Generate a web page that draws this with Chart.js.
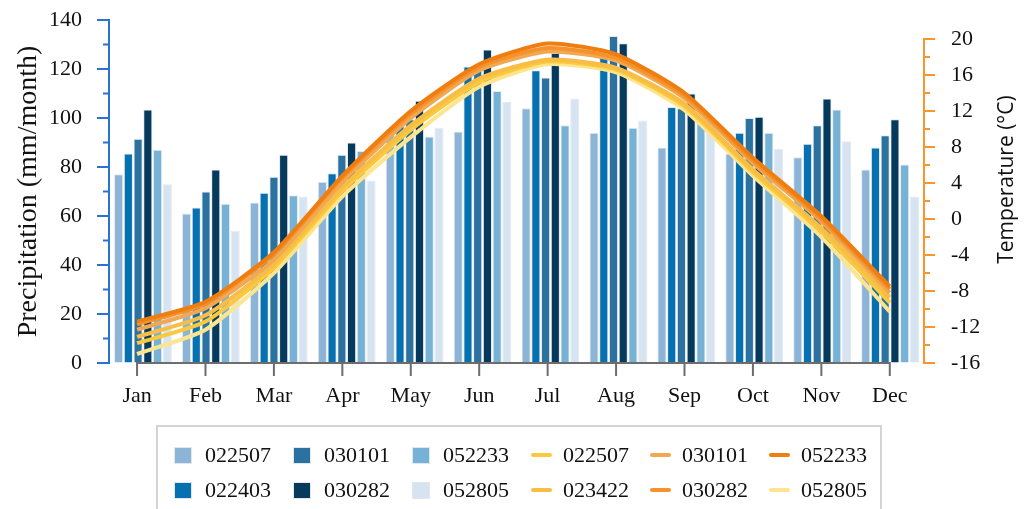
<!DOCTYPE html>
<html>
<head>
<meta charset="utf-8">
<script src="https://cdn.jsdelivr.net/npm/chart.js@4.4.1/dist/chart.umd.min.js"></script>
<style>
body { margin: 0; background: #fff; }
#wrap { position: relative; width: 1026px; height: 509px; }
#legend { position: absolute; left: 156px; top: 425px; width: 726px; height: 84px;
  border: 2px solid #d4d4d4; border-bottom: none; box-sizing: border-box;
  font-family: "Liberation Serif", serif; font-size: 22px; color: #111; }
.item { position: absolute; display: flex; align-items: center; height: 24px; white-space: nowrap; }
.box { width: 18px; height: 17px; margin-right: 13px; border: 1px solid #e2e7ee; box-sizing: border-box; }
.ln { width: 21px; height: 4px; border-radius: 2px; margin-right: 11px; }
</style>
</head>
<body>
<div id="wrap">
  <canvas id="myChart" width="1026" height="509"></canvas>
  <div id="legend"></div>
</div>
<script>
const months = ['Jan','Feb','Mar','Apr','May','Jun','Jul','Aug','Sep','Oct','Nov','Dec'];
const precipTicks = [0,10,20,30,40,50,60,70,80,90,100,110,120,130,140];
const tempTicks = [-16,-14,-12,-10,-8,-6,-4,-2,0,2,4,6,8,10,12,14,16,18,20];

// precipitation (mm/month), one array per station
const p022507 = [77, 61, 65.5, 74, 95.5, 94.5, 104, 94, 88, 85.5, 84, 79];
const p022403 = [85.5, 63.5, 69.5, 77.5, 97, 121, 119.5, 125.5, 104.5, 94, 89.5, 88];
const p030101 = [91.5, 70, 76, 85, 99.5, 121, 116.5, 133.5, 104, 100, 97, 93];
const p030282 = [103.5, 79, 85, 90, 107, 128, 126.5, 130.5, 110, 100.5, 108, 99.5];
const p052233 = [87, 65, 68.5, 86.5, 92.5, 111, 97, 96, 100, 94, 103.5, 81];
const p052805 = [73, 54, 68, 74.5, 96, 106.5, 108, 99, 99.5, 87.5, 90.5, 68];

// temperature (°C)
const t022507 = [-13.8, -11.4, -5.4, 3.1, 9.9, 15.2, 17.5, 16.6, 12.5, 5.2, -1.4, -9.3];
const t023422 = [-13.1, -10.7, -5.0, 3.5, 10.4, 15.6, 17.7, 16.8, 12.8, 5.5, -1.0, -8.7];
const t030101 = [-12.3, -9.9, -4.5, 4.1, 11.2, 16.5, 18.6, 17.6, 13.4, 6.2, -0.3, -8.2];
const t030282 = [-11.7, -9.4, -3.9, 4.6, 11.7, 16.9, 19.0, 17.9, 13.7, 6.5, 0.0, -7.8];
const t052233 = [-11.4, -9.2, -3.7, 4.8, 12.0, 17.2, 19.5, 18.3, 14.0, 6.8, 0.3, -7.5];
const t052805 = [-15.0, -12.3, -6.0, 2.5, 9.1, 14.7, 17.2, 16.3, 12.1, 4.8, -2.0, -10.3];

const barSets = [
  ['022507', p022507, '#8bb4d6'],
  ['022403', p022403, '#0571b0'],
  ['030101', p030101, '#2c72a0'],
  ['030282', p030282, '#053a5c'],
  ['052233', p052233, '#75b2d6'],
  ['052805', p052805, '#d6e4f1']
];
const lineSets = [
  ['022507', t022507, '#fcc93a'],
  ['023422', t023422, '#f8bd46'],
  ['030101', t030101, '#f0a853'],
  ['030282', t030282, '#f5922b'],
  ['052233', t052233, '#ef7d10'],
  ['052805', t052805, '#fde48f']
];
const lineOrder = { '052233': 0, '030282': 1, '030101': 2, '023422': 3, '022507': 4, '052805': 5 };

const serif = 'Liberation Serif';

// newer 4.x splits bar groups per axis id found in any dataset; the lines
// live on their own axes, so keep the six bars as a single group
if (Chart.BarController.prototype._getAxisCount) {
  Chart.BarController.prototype._getAxisCount = function () { return 1; };
}

const datasets = [];
barSets.forEach(s => {
  datasets.push({
    type: 'bar', label: s[0], data: s[1], backgroundColor: s[2],
    borderColor: 'rgba(226,231,238,0.9)', borderWidth: 1,
    xAxisID: 'x', yAxisID: 'y', order: 10,
    barPercentage: 0.94, categoryPercentage: 0.86
  });
});
lineSets.forEach(s => {
  datasets.push({
    type: 'line', label: s[0], data: s[1].map((v, i) => ({ x: i, y: v })),
    borderColor: s[2], backgroundColor: s[2], borderWidth: 4, pointRadius: 0,
    tension: 0.2, fill: false,
    xAxisID: 'xl', yAxisID: 'y1', order: lineOrder[s[0]]
  });
});

const axisPainter = {
  id: 'axisPainter',
  afterDatasetsDraw(chart) {
    const { ctx, chartArea, scales } = chart;
    const yl = scales.y, yr = scales.y1, xl = scales.xl;
    ctx.save();
    ctx.lineWidth = 2;
    // left axis
    ctx.strokeStyle = '#2b73d3';
    ctx.beginPath();
    ctx.moveTo(chartArea.left, yl.getPixelForValue(140) - 1);
    ctx.lineTo(chartArea.left, yl.getPixelForValue(0) + 1);
    precipTicks.forEach(v => {
      const y = yl.getPixelForValue(v);
      const len = v % 20 === 0 ? 12 : 6;
      ctx.moveTo(chartArea.left - len, y);
      ctx.lineTo(chartArea.left, y);
    });
    ctx.stroke();
    // right axis
    ctx.strokeStyle = '#f7962e';
    ctx.beginPath();
    ctx.moveTo(chartArea.right, yr.getPixelForValue(20) - 1);
    ctx.lineTo(chartArea.right, yr.getPixelForValue(-16) + 1);
    tempTicks.forEach(v => {
      const y = yr.getPixelForValue(v);
      const len = v % 4 === 0 ? 11 : 6;
      ctx.moveTo(chartArea.right, y);
      ctx.lineTo(chartArea.right + len, y);
    });
    ctx.stroke();
    // category axis
    ctx.strokeStyle = '#6d6d6d';
    ctx.beginPath();
    const yb = chartArea.bottom;
    ctx.moveTo(xl.getPixelForValue(0) - 1, yb);
    ctx.lineTo(xl.getPixelForValue(months.length - 1) + 1, yb);
    months.forEach((m, i) => {
      const x = xl.getPixelForValue(i);
      ctx.moveTo(x, yb);
      ctx.lineTo(x, yb + 13);
    });
    ctx.stroke();
    // right title, reading upward
    ctx.fillStyle = '#111';
    ctx.font = '21px "Open Sans"';
    ctx.textAlign = 'center';
    ctx.textBaseline = 'middle';
    ctx.translate(1007, (chartArea.top + chartArea.bottom) / 2 - 12);
    ctx.rotate(-Math.PI / 2);
    ctx.fillText('Temperature (°C)', 0, 0);
    ctx.restore();
  }
};

const hiddenTicks = { display: true, drawOnChartArea: false, drawTicks: true, tickLength: 27, tickColor: 'rgba(0,0,0,0)' };

const chart = new Chart(document.getElementById('myChart'), {
  data: { labels: months, datasets: datasets },
  plugins: [axisPainter],
  options: {
    responsive: false,
    animation: false,
    layout: { padding: { top: 20, left: 0, right: 0, bottom: 0 } },
    plugins: { legend: { display: false }, tooltip: { enabled: false } },
    scales: {
      x: { type: 'category', display: false, offset: true },
      xl: {
        type: 'linear', position: 'bottom', min: -0.41, max: 11.5, offset: false,
        afterBuildTicks: s => { s.ticks = months.map((m, i) => ({ value: i })); },
        afterFit: s => { s.height = 146; },
        grid: { display: false, drawTicks: false }, border: { display: false },
        ticks: {
          autoSkip: false, maxRotation: 0, padding: 20, color: '#111',
          font: { family: serif, size: 22 },
          callback: v => months[v]
        }
      },
      y: {
        position: 'left', min: 0, max: 140,
        afterBuildTicks: s => { s.ticks = precipTicks.map(v => ({ value: v })); },
        afterFit: s => { s.width = 109; },
        grid: hiddenTicks, border: { display: false },
        ticks: {
          padding: 0, color: '#111', font: { family: serif, size: 22 },
          callback: v => (v % 20 === 0 ? v : '')
        },
        title: {
          display: true, text: 'Precipitation (mm/month)', color: '#111',
          font: { family: serif, size: 28 }, padding: { top: 12, bottom: 0 }
        }
      },
      y1: {
        position: 'right', min: -16, max: 22.11,
        afterBuildTicks: s => { s.ticks = tempTicks.map(v => ({ value: v })); },
        afterFit: s => { s.width = 102; },
        grid: hiddenTicks, border: { display: false },
        ticks: {
          padding: 0, color: '#111', font: { family: serif, size: 22 },
          callback: v => (v % 4 === 0 ? v : '')
        }
      }
    }
  }
});

// legend: two rows, filled column by column
const legendEl = document.getElementById('legend');
chart.data.datasets.forEach((ds, i) => {
  const col = Math.floor(i / 2), row = i % 2;
  const item = document.createElement('div');
  item.className = 'item';
  item.style.left = (16 + col * 119) + 'px';
  item.style.top = (16 + row * 35) + 'px';
  const mark = document.createElement('span');
  mark.className = ds.type === 'bar' ? 'box' : 'ln';
  mark.style.background = ds.type === 'bar' ? ds.backgroundColor : ds.borderColor;
  const txt = document.createElement('span');
  txt.textContent = ds.label;
  item.appendChild(mark);
  item.appendChild(txt);
  legendEl.appendChild(item);
});
</script>
</body>
</html>
